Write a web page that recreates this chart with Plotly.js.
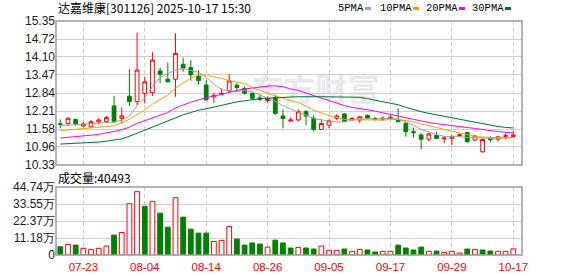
<!DOCTYPE html>
<html><head><meta charset="utf-8">
<script src="https://cdn.plot.ly/plotly-3.0.1.min.js"></script>
<style>html,body{margin:0;padding:0;background:#fff}#chart{width:578px;height:276px}</style>
</head><body><div id="chart"></div>
<script>
const stockTitle = '达嘉维康[301126] 2025-10-17 15:30';
const volLabel = '成交量:40493';
const dates = ['07-18','07-21','07-22','07-23','07-24','07-25','07-28','07-29','07-30','07-31',
'08-01','08-04','08-05','08-06','08-07','08-08','08-11','08-12','08-13','08-14','08-15','08-18','08-19','08-20','08-21','08-22','08-25','08-26','08-27','08-28','08-29',
'09-01','09-02','09-03','09-04','09-05','09-08','09-09','09-10','09-11','09-12','09-15','09-16','09-17','09-18','09-19','09-22','09-23','09-24','09-25','09-26','09-29','09-30',
'10-09','10-10','10-13','10-14','10-15','10-16','10-17'];
const tickLabels = ['07-23','08-04','08-14','08-26','09-05','09-17','09-29','10-17'];
const priceTicks = ['15.35','14.72','14.10','13.47','12.84','12.21','11.58','10.96','10.33'];
const volTickVals = [0, 111850, 223700, 335550, 447400];
const volTickText = ['0','11.18万','22.37万','33.55万','44.74万'];

const open = [11.77,11.78,11.92,11.69,11.66,11.83,11.84,12.39,11.96,12.73,
12.54,12.83,12.85,13.61,13.32,13.32,13.84,13.73,13.43,13.12,
12.71,12.79,12.91,13.11,13.00,12.83,12.67,12.58,12.69,12.04,
11.86,11.90,12.19,11.96,11.57,11.72,11.96,12.11,11.92,11.90,
12.06,11.95,11.93,11.96,11.92,11.78,11.49,11.38,11.23,11.36,
11.24,11.26,11.36,11.46,11.20,10.79,11.26,11.23,11.33,11.32];
const high = [11.92,11.99,11.94,11.83,11.90,11.96,12.04,12.74,12.34,13.67,
14.94,13.41,14.27,13.72,13.90,14.92,14.07,13.99,13.64,13.29,
12.85,13.00,13.50,13.18,13.07,12.86,12.76,12.72,12.75,12.27,
11.99,12.27,12.25,12.07,11.92,11.92,12.10,12.13,12.00,12.04,
12.10,12.00,12.02,12.06,12.31,11.83,11.64,11.44,11.46,11.49,
11.34,11.38,11.42,11.49,11.38,11.26,11.34,11.35,11.43,11.53];
const low = [11.61,11.69,11.69,11.66,11.63,11.74,11.82,11.78,11.78,12.39,
12.42,12.48,12.74,13.18,13.20,12.71,13.58,13.27,13.12,12.58,
12.50,12.77,12.85,12.89,12.80,12.59,12.55,12.50,12.08,11.61,
11.85,11.85,11.72,11.49,11.55,11.61,11.90,11.84,11.86,11.79,
11.92,11.88,11.88,11.94,11.83,11.32,11.29,10.88,11.14,11.23,
11.09,11.03,11.32,11.11,11.16,10.76,11.11,11.14,11.23,11.32];
const close = [11.75,11.96,11.75,11.76,11.84,11.90,11.98,11.84,12.04,12.54,
13.64,13.23,13.99,13.49,13.23,14.22,13.70,13.47,13.27,12.60,
12.76,12.83,13.26,13.03,12.83,12.66,12.62,12.63,12.13,11.95,
11.90,12.19,12.04,11.57,11.78,11.87,12.04,11.86,11.95,12.01,
11.97,11.93,11.96,11.99,11.84,11.49,11.46,11.23,11.41,11.26,
11.27,11.32,11.38,11.14,11.34,11.22,11.21,11.31,11.35,11.37];

const ma5 = [11.70,11.72,11.73,11.74,11.77,11.79,11.81,11.83,11.89,12.03,
12.40,12.68,13.06,13.38,13.52,13.63,13.70,13.63,13.56,13.40,
13.14,12.96,12.91,12.89,12.93,12.88,12.78,12.66,12.55,12.40,
12.28,12.18,12.07,11.95,11.90,11.86,11.83,11.83,11.89,11.93,
11.95,11.93,11.95,11.96,11.93,11.82,11.72,11.57,11.47,11.39,
11.33,11.31,11.32,11.29,11.29,11.27,11.26,11.25,11.28,11.29];
const ma10 = [11.53,11.55,11.57,11.60,11.61,11.64,11.67,11.70,11.80,11.93,
12.10,12.24,12.45,12.62,12.77,13.01,13.19,13.36,13.46,13.47,
13.40,13.35,13.27,13.22,13.17,13.03,12.93,12.85,12.74,12.66,
12.57,12.51,12.39,12.24,12.14,12.05,11.99,11.92,11.91,11.91,
11.92,11.90,11.89,11.92,11.92,11.88,11.83,11.76,11.71,11.64,
11.57,11.51,11.46,11.38,11.33,11.30,11.28,11.28,11.27,11.28];
const ma20 = [11.27,11.29,11.31,11.34,11.37,11.40,11.44,11.50,11.56,11.65,
11.78,11.88,11.98,12.06,12.16,12.32,12.43,12.52,12.60,12.68,
12.74,12.79,12.87,12.93,12.98,13.02,13.05,13.08,13.09,13.06,
12.98,12.93,12.84,12.75,12.68,12.57,12.48,12.40,12.34,12.30,
12.26,12.21,12.15,12.09,12.04,11.98,11.92,11.86,11.81,11.77,
11.74,11.70,11.66,11.63,11.60,11.57,11.53,11.50,11.47,11.44];
const ma30 = [11.06,11.07,11.08,11.10,11.11,11.13,11.16,11.19,11.24,11.33,
11.44,11.54,11.66,11.76,11.87,11.99,12.08,12.16,12.24,12.29,
12.35,12.41,12.48,12.53,12.57,12.61,12.64,12.66,12.68,12.70,
12.70,12.71,12.72,12.71,12.71,12.71,12.71,12.71,12.71,12.69,
12.64,12.59,12.53,12.48,12.43,12.34,12.26,12.19,12.13,12.08,
12.03,11.98,11.92,11.86,11.81,11.76,11.71,11.67,11.64,11.62];

const volume = [54500,70000,65000,44000,37000,44000,59000,131000,148000,338000,
417000,321000,353000,275000,183000,377000,249000,170000,144000,144000,
89000,96000,188000,105000,65000,79000,72000,52000,98000,79000,
46000,50000,46000,39000,59000,31000,31000,39000,24000,37000,
33000,20000,24000,24000,65000,46000,33000,52000,24000,26000,
17000,24000,13000,39000,37000,33000,26000,24000,24000,40493];
// 1 = red (up vs previous close), 0 = green
const volUp = [0,1,0,1,1,1,1,0,1,1, 1,0,1,0,0,1,0,0,0,0, 1,1,1,0,0,0,0,1,0,0,
0,1,0,0,1,1,1,0,1,1, 0,0,1,1,0,0,0,0,1,0, 1,1,1,0,1,0,0,1,1,1];

const maNames = ['5PMA','10PMA','20PMA','30PMA'];
const maColors = ['#a0a0a0','#f0a30a','#ff00ff','#00703a'];
const RED = '#ff0000', GREEN = '#008000';

// pixel helpers for text/legend placement
const PL = 56, PR = 522, PT = 21, PB = 255;
const px = x => (x - PL) / (PR - PL);
const py = y => (PB - y) / (PB - PT);

const traces = [];
traces.push({
  type: 'candlestick', x: dates, open: open, high: high, low: low, close: close,
  xaxis: 'x', yaxis: 'y',
  increasing: {line: {color: RED, width: 1}, fillcolor: '#ffffff'},
  decreasing: {line: {color: GREEN, width: 1}, fillcolor: GREEN},
  whiskerwidth: 0, hoverinfo: 'skip', showlegend: false
});
[ma5, ma10, ma20, ma30].forEach((arr, k) => {
  traces.push({type: 'scatter', mode: 'lines', x: dates, y: arr, name: maNames[k],
    line: {color: maColors[k], width: 1}, xaxis: 'x', yaxis: 'y', hoverinfo: 'skip'});
});
traces.push({
  type: 'bar', x: dates, y: volume, xaxis: 'x', yaxis: 'y2', width: 0.62,
  marker: {color: volUp.map(u => u ? '#ffffff' : GREEN),
           line: {color: volUp.map(u => u ? RED : GREEN), width: 1}},
  hoverinfo: 'skip'
});

const tickFont = {family: 'Liberation Sans, Arial, sans-serif', size: 12, color: '#1a1a1a'};
const shapes = [
  {type:'rect', xref:'paper', yref:'paper', x0:0, x1:1, y0:py(165), y1:1, line:{color:'#9a9a9a', width:1.5}, layer:'above'},
  {type:'rect', xref:'paper', yref:'paper', x0:0, x1:1, y0:0, y1:py(187), line:{color:'#9a9a9a', width:1.5}, layer:'above'},
  {type:'rect', xref:'x', yref:'y', x0:29, x1:37.4, y0:12.6, y1:13.15, line:{width:0}, fillcolor:'rgba(0,0,0,0)', layer:'below',
   label:{text:'东方财富', textposition:'middle center', font:{family:'Noto Sans CJK SC', size:32, color:'#e8e8ed', weight:'bold'}}}
];
const legPos = [[338,365],[380,413],[426,459],[472,505]];
const annotations = [
  {xref:'paper', yref:'paper', x:px(56), y:py(8), xanchor:'left', yanchor:'middle', showarrow:false,
   text: stockTitle, font:{family:'Noto Sans CJK SC', size:12, color:'#000'}},
  {xref:'paper', yref:'paper', x:px(56), y:py(177.5), xanchor:'left', yanchor:'middle', showarrow:false,
   text: volLabel, font:{family:'Noto Sans CJK SC', size:12, color:'#000'}}
];
maNames.forEach((n, k) => {
  annotations.push({xref:'paper', yref:'paper', x:px(legPos[k][0]-2), y:py(8.5), xanchor:'left', yanchor:'middle', showarrow:false,
    text:n, font:{family:'Liberation Mono, monospace', size:10.5, color:'#000'}});
  shapes.push({type:'rect', xref:'paper', yref:'paper', x0:px(legPos[k][1]), x1:px(legPos[k][1]+6),
    y0:py(10), y1:py(7), line:{width:0}, fillcolor:maColors[k], layer:'above'});
});

const layout = {
  width: 578, height: 276,
  margin: {l: 56, r: 56, t: 21, b: 21, pad: 0},
  paper_bgcolor: '#ffffff', plot_bgcolor: '#ffffff',
  showlegend: false, hovermode: false,
  xaxis: {type:'category', range:[-0.56, 60.13], anchor:'y2', tickmode:'array', tickvals: tickLabels, ticktext: tickLabels,
    showgrid:true, gridcolor:'#cccccc', gridwidth:1, griddash:'4px,3px', ticks:'outside', ticklen:1, tickcolor:'rgba(0,0,0,0)',
    tickfont:{family:'Liberation Sans, Arial, sans-serif', size:11.5, color:'#ff0000'}, showline:false, zeroline:false,
    rangeslider:{visible:false}, fixedrange:true},
  yaxis: {domain:[py(165), 1], range:[10.33, 15.35], tickmode:'array', tickvals: priceTicks.map(Number), ticktext: priceTicks,
    showgrid:true, gridcolor:'#d0d0d0', gridwidth:1, ticks:'', tickfont: tickFont, zeroline:false, showline:false, fixedrange:true},
  yaxis2: {domain:[0, py(187)], range:[0, 447400], tickmode:'array', tickvals: volTickVals, ticktext: volTickText,
    showgrid:true, gridcolor:'#d0d0d0', gridwidth:1, ticks:'', tickfont: tickFont, zeroline:false, showline:false, fixedrange:true},
  shapes: shapes, annotations: annotations
};
Plotly.newPlot('chart', traces, layout, {staticPlot:true, displayModeBar:false});
</script></body></html>
